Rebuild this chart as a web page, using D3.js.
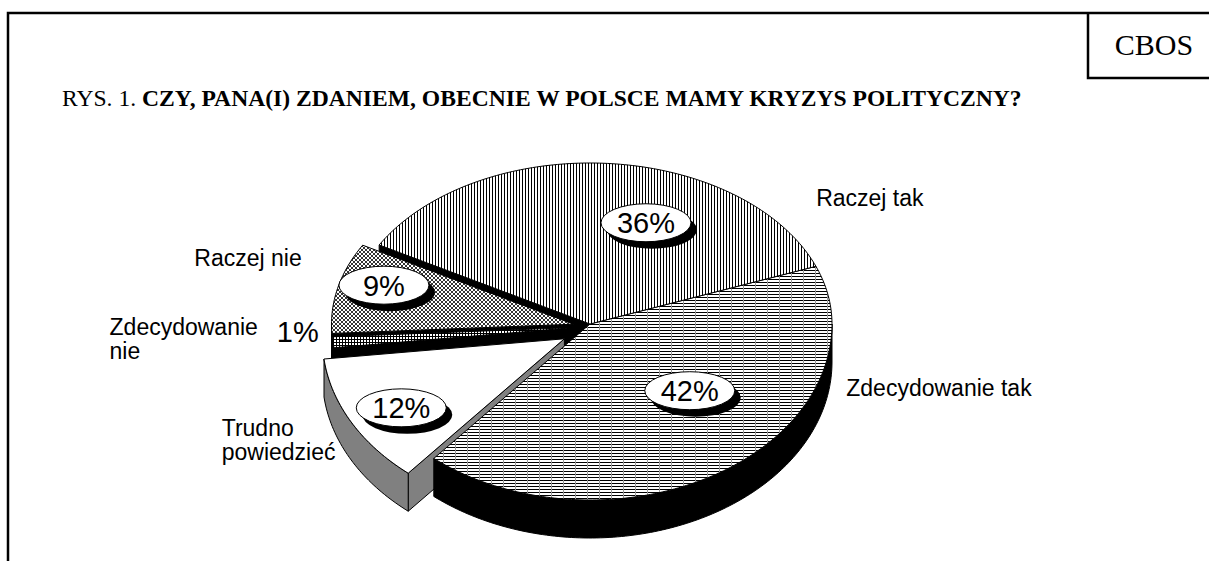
<!DOCTYPE html>
<html>
<head>
<meta charset="utf-8">
<script src="https://cdn.jsdelivr.net/npm/d3@7"></script>
<style>
  body { margin: 0; background: #fff; }
  svg { display: block; }
</style>
</head>
<body>
<div id="chart"></div>
<script>
// ── Data ───────────────────────────────────────────────────────────────
const categories  = ["Zdecydowanie tak", "Trudno powiedzieć", "Zdecydowanie nie", "Raczej nie", "Raczej tak"];
const labelLines  = [["Zdecydowanie tak"], ["Trudno", "powiedzieć"], ["Zdecydowanie", "nie"], ["Raczej nie"], ["Raczej tak"]];
const values      = [42, 12, 1, 9, 36];
const valueLabels = ["42%", "12%", "1%", "9%", "36%"];

const W = 1209, H = 561;

// pie look, per category
const STYLE = {
  "Zdecydowanie tak":  { fill: "url(#hlines)",  side: "#000",    explode: 0,     pct: [0.56, -12], lab: [109, 1.12, "start"] },
  "Trudno powiedzieć": { fill: "#fff",          side: "#808080", explode: 0.12,  pct: [0.78, -2],  lab: [238, 1.24, "end"] },
  "Zdecydowanie nie":  { fill: "url(#grid)",    side: "#000",    explode: 0.065, pct: null,        lab: [266.5, 1.375, "end"] },
  "Raczej nie":        { fill: "url(#checker)", side: "#000",    explode: 0.07,  pct: [0.82, 4],   lab: [289, 1.26, "end"] },
  "Raczej tak":        { fill: "url(#vlines)",  side: "#000",    explode: 0,     pct: [0.67, 16],  lab: [50, 1.22, "start"] }
};

const CX = 590, CY = 324, RX = 242, RY_TOP = 161, RY_BOT = 176, DEPTH = 38, DROP = 40;
const rad = d => d * Math.PI / 180;

const svg = d3.select("#chart").append("svg").attr("width", W).attr("height", H);

// ── Patterns ───────────────────────────────────────────────────────────
const defs = svg.append("defs");
const pv = defs.append("pattern").attr("id", "vlines").attr("patternUnits", "userSpaceOnUse").attr("width", 3).attr("height", 3);
pv.append("rect").attr("width", 3).attr("height", 3).attr("fill", "#fff");
pv.append("rect").attr("width", 1).attr("height", 3).attr("fill", "#000");

const ph = defs.append("pattern").attr("id", "hlines").attr("patternUnits", "userSpaceOnUse").attr("width", 12).attr("height", 3);
ph.append("rect").attr("width", 12).attr("height", 3).attr("fill", "#fff");
ph.append("rect").attr("width", 12).attr("height", 1).attr("fill", "#000");
ph.append("rect").attr("x", 11).attr("width", 1).attr("height", 3).attr("fill", "#999");

const pc = defs.append("pattern").attr("id", "checker").attr("patternUnits", "userSpaceOnUse").attr("width", 4).attr("height", 4);
pc.append("rect").attr("width", 4).attr("height", 4).attr("fill", "#fff");
pc.append("path").attr("d", "M0,0L4,4M4,0L0,4").attr("stroke", "#000").attr("stroke-width", 0.8);

const pg = defs.append("pattern").attr("id", "grid").attr("patternUnits", "userSpaceOnUse").attr("width", 3).attr("height", 3);
pg.append("rect").attr("width", 3).attr("height", 3).attr("fill", "#fff");
pg.append("rect").attr("width", 3).attr("height", 1).attr("fill", "#000");
pg.append("rect").attr("width", 1).attr("height", 3).attr("fill", "#000");

// ── Frame ──────────────────────────────────────────────────────────────
svg.append("path")
  .attr("d", `M8,${H} V13 H${W}`)
  .attr("fill", "none").attr("stroke", "#000").attr("stroke-width", 2.5);
svg.append("path")
  .attr("d", `M1088,13 V78 H${W}`)
  .attr("fill", "none").attr("stroke", "#000").attr("stroke-width", 2.5);
svg.append("text")
  .attr("x", 1154).attr("y", 55)
  .attr("text-anchor", "middle")
  .style("font-family", "'Liberation Serif', 'Times New Roman', serif")
  .style("font-size", "30px")
  .text("CBOS");

const title = svg.append("text")
  .attr("x", 62).attr("y", 106)
  .style("font-family", "'Liberation Serif', 'Times New Roman', serif")
  .style("font-size", "23.6px");
title.append("tspan").text("RYS. 1. ");
title.append("tspan").style("font-weight", "bold").text("CZY, PANA(I) ZDANIEM, OBECNIE W POLSCE MAMY KRYZYS POLITYCZNY?");

// ── Geometry ───────────────────────────────────────────────────────────
const pie = d3.pie().sort(null).value(d => d.value)
  .startAngle(rad(69)).endAngle(rad(69) + 2 * Math.PI);

const slices = pie(categories.map((c, i) => ({ name: c, value: values[i], lines: labelLines[i], pctText: valueLabels[i] })));

function proj(a, r, off) {
  const c = Math.cos(a);
  const ry = c > 0 ? RY_TOP : RY_BOT;
  return [CX + off[0] + r * RX * Math.sin(a), CY + off[1] - r * ry * c];
}

slices.forEach(s => {
  s.mid = (s.startAngle + s.endAngle) / 2;
  const e = STYLE[s.data.name].explode;
  const c = Math.cos(s.mid);
  s.off = [e * RX * Math.sin(s.mid), -e * (c > 0 ? RY_TOP : RY_BOT) * c + e * DROP];
});

const line = d3.line();
const arcPts = (a0, a1, off, dy = 0) => {
  const n = Math.max(2, Math.ceil((a1 - a0) / rad(1)));
  return d3.range(n + 1).map(i => {
    const p = proj(a0 + (a1 - a0) * i / n, 1, off);
    return [p[0], p[1] + dy];
  });
};

const sidesG = svg.append("g");
const topsG  = svg.append("g");

// sides, back to front
const order = slices.slice().sort((a, b) => Math.cos(b.mid) - Math.cos(a.mid));
order.forEach(s => {
  const st = STYLE[s.data.name];
  const g = sidesG.append("g");
  const faces = [];
  const c0 = proj(0, 0, s.off);
  if (Math.sin(s.startAngle) < 0) {
    const p = proj(s.startAngle, 1, s.off);
    faces.push([c0, p, [p[0], p[1] + DEPTH], [c0[0], c0[1] + DEPTH]]);
  }
  if (Math.sin(s.endAngle) > 0) {
    const p = proj(s.endAngle, 1, s.off);
    faces.push([c0, p, [p[0], p[1] + DEPTH], [c0[0], c0[1] + DEPTH]]);
  }
  // outer wall, front half only
  [[Math.PI / 2, 3 * Math.PI / 2], [Math.PI / 2 + 2 * Math.PI, 3 * Math.PI / 2 + 2 * Math.PI]].forEach(([lo, hi]) => {
    const a0 = Math.max(lo, s.startAngle), a1 = Math.min(hi, s.endAngle);
    if (a1 > a0) {
      const topPts = arcPts(a0, a1, s.off);
      const botPts = arcPts(a0, a1, s.off, DEPTH).reverse();
      faces.push(topPts.concat(botPts));
    }
  });
  faces.forEach(f => {
    g.append("path")
      .attr("d", line(f) + "Z")
      .attr("fill", st.side)
      .attr("stroke", "#000").attr("stroke-width", 1).attr("stroke-linejoin", "round");
  });
});

// top faces
slices.forEach(s => {
  const st = STYLE[s.data.name];
  const pts = [proj(0, 0, s.off)].concat(arcPts(s.startAngle, s.endAngle, s.off));
  topsG.append("path")
    .attr("d", line(pts) + "Z")
    .attr("fill", st.fill)
    .attr("stroke", "#000").attr("stroke-width", 1).attr("stroke-linejoin", "round");
});

// ── Value labels ───────────────────────────────────────────────────────
const SANS = "'Liberation Sans', Arial, sans-serif";
slices.forEach(s => {
  const st = STYLE[s.data.name];
  if (!st.pct) return;
  const p = proj(s.mid + rad(st.pct[1]), st.pct[0], s.off);
  const g = svg.append("g").attr("transform", `translate(${p[0]},${p[1]})`);
  g.append("ellipse").attr("cx", 6).attr("cy", 7).attr("rx", 45).attr("ry", 19).attr("fill", "#000");
  g.append("ellipse").attr("rx", 45).attr("ry", 19).attr("fill", "#fff").attr("stroke", "#000").attr("stroke-width", 1);
  g.append("text")
    .attr("text-anchor", "middle").attr("dy", "0.36em")
    .style("font-family", SANS).style("font-size", "29px")
    .text(s.data.pctText);
});

// ── Category labels ────────────────────────────────────────────────────
const LAB_SIZE = 23, LAB_LH = 24;
slices.forEach(s => {
  const st = STYLE[s.data.name];
  const p = proj(rad(st.lab[0]), st.lab[1], [0, 0]);
  const lines = s.data.lines;
  const t = svg.append("text")
    .style("font-family", SANS).style("font-size", LAB_SIZE + "px");
  lines.forEach((ln, i) => {
    t.append("tspan").attr("x", 0)
      .attr("y", p[1] + (i - (lines.length - 1) / 2) * LAB_LH).attr("dy", "0.36em").text(ln);
  });
  const w = t.node().getBBox().width;
  const x0 = st.lab[2] === "end" ? p[0] - w : p[0];
  t.selectAll("tspan").attr("x", x0);
  // slice too thin for an inner label: value goes beside the name
  if (!st.pct) {
    svg.append("text")
      .attr("x", p[0] + 19).attr("y", p[1] - 7).attr("dy", "0.36em")
      .style("font-family", SANS).style("font-size", "29px")
      .text(s.data.pctText);
  }
});
</script>
</body>
</html>
